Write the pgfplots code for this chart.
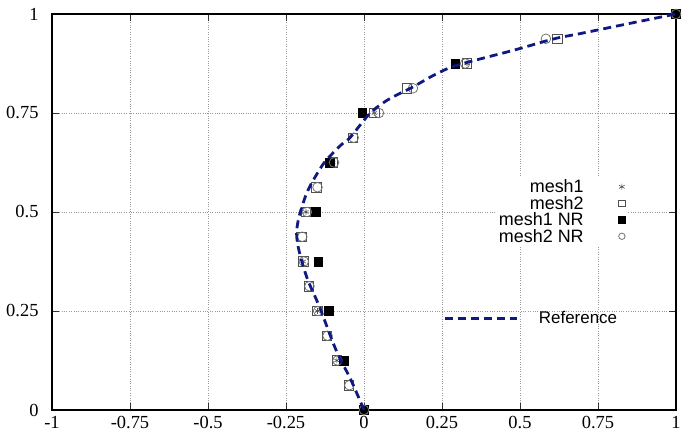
\documentclass[border=0pt]{standalone}
\usepackage{pgfplots}
\pgfplotsset{compat=1.18}
\usepackage{fontspec}
\setmainfont{Liberation Serif}
\setsansfont{Liberation Sans}
\definecolor{refblue}{RGB}{15,25,130}
\definecolor{mkgray}{RGB}{80,80,80}

\pgfplotstableread{
x y
0 0
-0.049 0.0625
-0.087 0.125
-0.119 0.1875
-0.149 0.25
-0.177 0.3125
-0.195 0.375
-0.200 0.4375
-0.186 0.5
-0.152 0.5625
-0.100 0.625
-0.036 0.6875
0.033 0.75
0.137 0.8125
0.330 0.875
0.619 0.9375
1 1
}\meshtwo

\pgfplotstableread{
x y
0 0
-0.047 0.0625
-0.085 0.125
-0.117 0.1875
-0.147 0.25
-0.175 0.3125
-0.193 0.375
-0.198 0.4375
-0.183 0.5
-0.149 0.5625
-0.096 0.625
-0.033 0.6875
0.048 0.75
0.157 0.8125
0.324 0.875
0.583 0.9375
1 1
}\meshtwoNR

\pgfplotstableread{
x y
0 0
-0.065 0.125
-0.112 0.25
-0.147 0.375
-0.156 0.5
-0.111 0.625
-0.006 0.75
0.292 0.875
1 1
}\meshoneNR

\pgfplotstableread{
x y
0 0
-0.087 0.125
-0.149 0.25
-0.195 0.375
-0.186 0.5
-0.100 0.625
0.033 0.75
0.330 0.875
1 1
}\meshone

\pgfplotstableread{
x y
0 0
-0.042 0.076
-0.090 0.152
-0.143 0.261
-0.180 0.328
-0.202 0.383
-0.213 0.420
-0.216 0.445
-0.214 0.465
-0.207 0.492
-0.196 0.520
-0.184 0.547
-0.165 0.577
-0.127 0.625
-0.074 0.669
-0.045 0.6875
0.020 0.750
0.080 0.785
0.155 0.815
0.230 0.848
0.300 0.871
0.482 0.909
0.610 0.9375
0.696 0.951
0.850 0.976
1 1
}\reference

\begin{document}
\begin{tikzpicture}
\path[use as bounding box] (-52bp,-26bp) rectangle (637bp,410bp);
\begin{axis}[
  scale only axis, width=624bp, height=396bp,
  at={(0,0)}, anchor=south west,
  xmin=-1, xmax=1, ymin=0, ymax=1,
  xtick={-1,-0.75,-0.5,-0.25,0,0.25,0.5,0.75,1},
  ytick={0,0.25,0.5,0.75,1},
  /pgf/number format/assume math mode=true,
  /pgf/number format/fixed,
  ticklabel style={font=\fontsize{18.5}{18.5}\selectfont\rmfamily},
  xticklabel style={yshift=-3bp},
  yticklabel style={xshift=-10bp},
  grid=major,
  major grid style={gray!80, dotted, line width=0.7bp},
  axis line style={line width=1.3bp, black},
  tick align=inside, major tick length=7bp,
  tick style={black!80, line width=0.8bp},
  clip=false,
  legend plot pos=right,
  legend cell align=right,
  legend image post style={mark size=3.2bp},
  legend style={at={(axis cs:0.847,0.59)}, anchor=north east,
    draw=none, fill=white,
    font=\fontsize{18}{18}\selectfont\sffamily,
    nodes={inner sep=1bp},
    /tikz/every odd column/.append style={column sep=34bp}},
]
\addplot[only marks, mark=asterisk, mark size=3bp, mkgray, line width=0.6bp] table {\meshone};
\addlegendentry{mesh1}
\addplot[only marks, mark=square, mark size=4.8bp, mkgray, line width=0.8bp] table {\meshtwo};
\addlegendentry{mesh2}
\addplot[only marks, mark=square*, mark size=4.4bp, black] table {\meshoneNR};
\addlegendentry{mesh1 NR}
\addplot[only marks, mark=o, mark size=4.8bp, mkgray!80, line width=0.8bp] table {\meshtwoNR};
\addlegendentry{mesh2 NR}
\end{axis}
\begin{axis}[
  scale only axis, width=624bp, height=396bp,
  at={(0,0)}, anchor=south west,
  xmin=-1, xmax=1, ymin=0, ymax=1,
  hide axis,
  legend image code/.code={\draw[#1] (0bp,0bp) -- (72bp,0bp);},
  legend style={at={(axis cs:0.253,0.232)}, anchor=west,
    draw=none, fill=none, inner sep=0pt,
    font=\fontsize{17}{17}\selectfont\sffamily,
    /tikz/every odd column/.append style={column sep=19bp}},
]
\addplot[refblue, line width=2.8bp, dash pattern=on 8bp off 5bp, smooth, tension=0.5] table {\reference};
\addlegendentry{Reference}
\end{axis}
\end{tikzpicture}
\end{document}
